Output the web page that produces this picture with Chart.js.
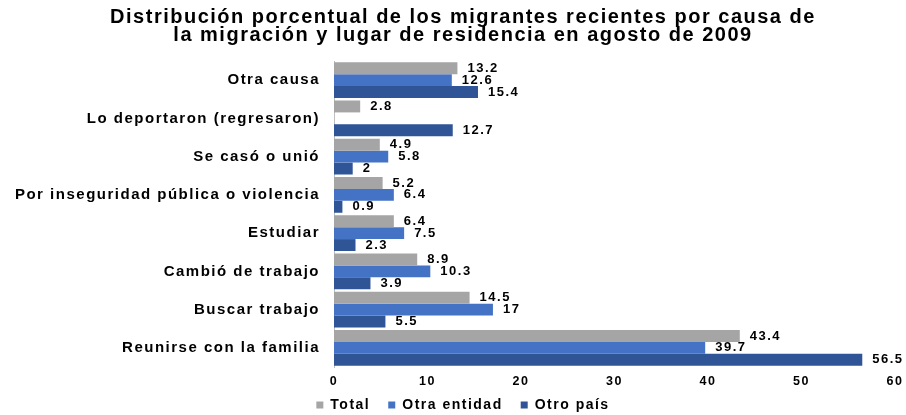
<!DOCTYPE html>
<html>
<head>
<meta charset="utf-8">
<script src="https://cdn.jsdelivr.net/npm/chart.js@4/dist/chart.umd.min.js"></script>
<style>
  html, body { margin: 0; padding: 0; background: #fff; }
  #wrap { width: 906px; height: 415px; }
</style>
</head>
<body>
<div id="wrap"><canvas id="c"></canvas></div>
<script>
const categories = [
  "Otra causa",
  "Lo deportaron (regresaron)",
  "Se casó o unió",
  "Por inseguridad pública o violencia",
  "Estudiar",
  "Cambió de trabajo",
  "Buscar trabajo",
  "Reunirse con la familia"
];
const seriesNames = ["Total", "Otra entidad", "Otro país"];
const totalValues = [13.2, 2.8, 4.9, 5.2, 6.4, 8.9, 14.5, 43.4];
const otraEntidadValues = [12.6, null, 5.8, 6.4, 7.5, 10.3, 17, 39.7];
const otroPaisValues = [15.4, 12.7, 2, 0.9, 2.3, 3.9, 5.5, 56.5];
const xTicks = [0, 10, 20, 30, 40, 50, 60];
const titleLines = [
  "Distribución porcentual de los migrantes recientes por causa de",
  "la migración y lugar de residencia en agosto de 2009"
];

const FONT = "'Liberation Sans', Arial, sans-serif";
const SPACING = '1.5px';
const CENTER_SHIFT = 13;
const LEGEND_LIFT = 16;

const spacingPlugin = {
  id: 'spacing',
  beforeUpdate(chart) { chart.ctx.letterSpacing = SPACING; },
  beforeLayout(chart) { chart.ctx.letterSpacing = SPACING; },
  afterLayout(chart) {
    [chart.titleBlock, chart.legend].forEach(b => {
      if (b) { b.left += CENTER_SHIFT; b.right += CENTER_SHIFT; }
    });
    if (chart.legend) { chart.legend.top -= LEGEND_LIFT; chart.legend.bottom -= LEGEND_LIFT; }
  },
  beforeDraw(chart) { chart.ctx.letterSpacing = SPACING; }
};

const dataLabelPlugin = {
  id: 'dataLabels',
  afterDatasetsDraw(chart) {
    const ctx = chart.ctx;
    ctx.save();
    ctx.letterSpacing = SPACING;
    ctx.font = "bold 13px " + FONT;
    ctx.fillStyle = '#000';
    ctx.textAlign = 'left';
    ctx.textBaseline = 'middle';
    chart.data.datasets.forEach((ds, di) => {
      const meta = chart.getDatasetMeta(di);
      meta.data.forEach((bar, i) => {
        const v = ds.data[i];
        if (v === null || v === undefined) return;
        ctx.fillText(String(v), bar.x + 10, bar.y);
      });
    });
    ctx.restore();
  }
};

new Chart(document.getElementById('c'), {
  type: 'bar',
  data: {
    labels: categories,
    datasets: [
      { label: seriesNames[0], data: totalValues, backgroundColor: '#A5A5A5' },
      { label: seriesNames[1], data: otraEntidadValues, backgroundColor: '#4472C4' },
      { label: seriesNames[2], data: otroPaisValues, backgroundColor: '#2F5597' }
    ]
  },
  options: {
    indexAxis: 'y',
    responsive: true,
    maintainAspectRatio: false,
    animation: false,
    categoryPercentage: 0.935,
    barPercentage: 1.0,
    layout: { padding: { left: 5, right: 11, top: 0, bottom: -23 } },
    scales: {
      x: {
        min: 0, max: 60,
        afterBuildTicks(scale) { scale.ticks = xTicks.map(v => ({ value: v })); },
        afterFit(scale) { scale.paddingLeft = 0; scale.paddingRight = 0; },
        grid: { display: false, drawTicks: false },
        border: { display: false },
        ticks: { color: '#000', padding: 7, maxRotation: 0, font: { family: FONT, size: 12.5, weight: 'bold' } }
      },
      y: {
        afterFit(scale) { scale.width = 329; },
        grid: { display: false, drawTicks: false },
        border: { display: true, color: '#BFBFBF', width: 1 },
        ticks: { color: '#000', padding: 14, font: { family: FONT, size: 15, weight: 'bold' } }
      }
    },
    plugins: {
      title: {
        display: true,
        text: titleLines,
        color: '#000',
        font: { family: FONT, size: 20, weight: 'bold', lineHeight: 0.9 },
        padding: { top: 8, bottom: 17 }
      },
      legend: {
        position: 'bottom',
        labels: {
          color: '#000',
          boxWidth: 7,
          boxHeight: 7,
          padding: 18,
          font: { family: FONT, size: 14, weight: 'bold' }
        }
      },
      tooltip: { enabled: false }
    }
  },
  plugins: [spacingPlugin, dataLabelPlugin]
});
</script>
</body>
</html>
